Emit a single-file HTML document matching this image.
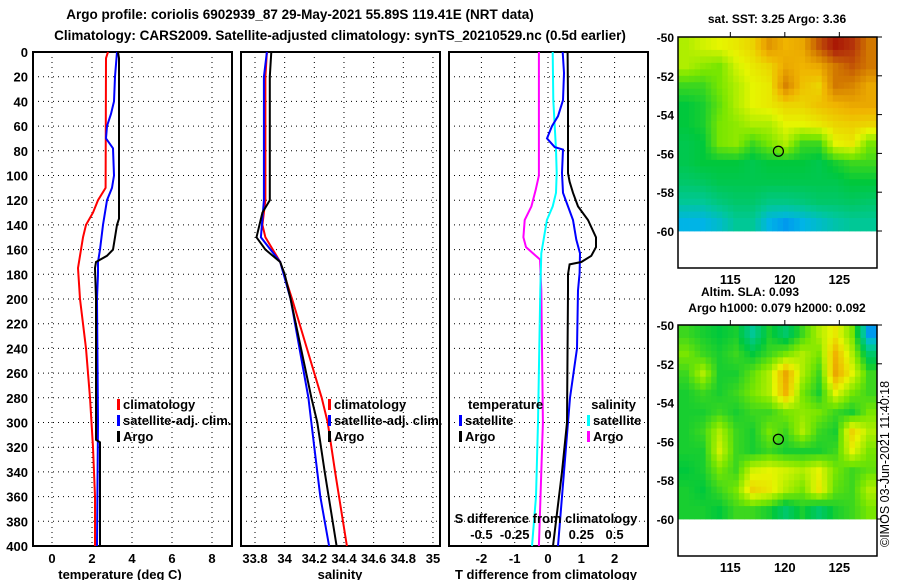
<!DOCTYPE html>
<html><head><meta charset="utf-8"><style>
body{margin:0;background:#fff}
svg{display:block;font-family:"Liberation Sans",sans-serif;font-weight:bold}
text{fill:#000}
</style></head><body>
<svg id="c" width="900" height="580" viewBox="0 0 900 580" xmlns="http://www.w3.org/2000/svg">
<text x="300" y="19" font-size="13.5" text-anchor="middle">Argo profile: coriolis 6902939_87 29-May-2021 55.89S 119.41E (NRT data)</text>
<text x="340" y="40" font-size="13.5" text-anchor="middle">Climatology: CARS2009. Satellite-adjusted climatology: synTS_20210529.nc (0.5d earlier)</text>
<g id="g"></g>
<text x="120" y="579" font-size="13" text-anchor="middle">temperature (deg C)</text>
<text x="340" y="579" font-size="13" text-anchor="middle">salinity</text>
<text x="546" y="579" font-size="13" text-anchor="middle">T difference from climatology</text>
<text x="546" y="523" font-size="13" text-anchor="middle">S difference from climatology</text>
<text x="777" y="23" font-size="12" text-anchor="middle">sat. SST: 3.25 Argo: 3.36</text>
<text x="750" y="296" font-size="12" text-anchor="middle">Altim. SLA: 0.093</text>
<text x="777" y="312" font-size="12" text-anchor="middle">Argo h1000: 0.079 h2000: 0.092</text>
<text transform="translate(889,547) rotate(-90)" font-size="12.5" font-weight="normal">©IMOS 03-Jun-2021 11:40:18</text>
</svg>
<script>
// ---- data ----
const depthTicks=[0,20,40,60,80,100,120,140,160,180,200,220,240,260,280,300,320,340,360,380,400];
const tempTicks=[0,2,4,6,8];
const salTicks=[33.8,34,34.2,34.4,34.6,34.8,35];
const salTickLabels=["33.8","34","34.2","34.4","34.6","34.8","35"];
const tdTicks=[-2,-1,0,1,2];
const sdTicks=[-0.5,-0.25,0,0.25,0.5];
const sdTickLabels=["-0.5","-0.25","0","0.25","0.5"];

const climTDepth=[0,5,110,120,130,140,150,160,175,200,240,280,320,360,400];
const climT=[2.8,2.7,2.68,2.3,2.05,1.7,1.55,1.45,1.3,1.4,1.7,1.9,2.05,2.15,2.15];
const satTDepth=[0,20,40,50,60,70,78,100,110,120,140,160,170,180,200,300,400];
const satT=[3.25,3.15,3.1,2.95,2.75,2.7,3.05,3.1,3.0,2.75,2.55,2.4,2.3,2.3,2.25,2.3,2.25];
const argoTDepth=[0,5,135,140,150,160,165,170,175,200,314,316,400];
const argoT=[3.3,3.35,3.35,3.25,3.15,3.05,2.75,2.2,2.15,2.2,2.2,2.4,2.4];

const climSDepth=[0,20,120,140,150,160,170,200,240,280,300,340,400];
const climS=[33.88,33.87,33.87,33.85,33.87,33.92,33.97,34.05,34.15,34.25,34.29,34.34,34.42];
const satSDepth=[0,20,120,150,170,200,240,280,320,360,400];
const satS=[33.88,33.86,33.86,33.84,33.97,34.04,34.1,34.16,34.2,34.24,34.3];
const argoSDepth=[0,20,120,130,150,160,170,180,200,240,280,300,340,400];
const argoS=[33.91,33.9,33.9,33.85,33.81,33.87,33.97,34.0,34.04,34.11,34.18,34.22,34.27,34.35];

const tdSatDepth=[0,17,39,52,60,70,77,79,98,114,125,136,152,163,179,193,240,280,320,360,400];
const tdSat=[0.44,0.48,0.45,0.3,0.12,-0.03,0.2,0.45,0.42,0.45,0.6,0.75,0.85,0.96,0.95,0.9,0.87,0.66,0.54,0.42,0.3];
const tdArgoDepth=[0,39,98,105,114,125,136,150,158,165,170,172,180,193,300,340,400];
const tdArgo=[0.59,0.6,0.6,0.65,0.75,0.9,1.2,1.44,1.44,1.3,1.0,0.65,0.6,0.6,0.57,0.42,0.15];
const sdSatDepth=[0,39,79,98,114,125,136,152,163,193,300,360,400];
const sdSat=[0.035,0.04,0.06,0.065,0.06,0.035,-0.008,-0.033,-0.05,-0.058,-0.075,-0.09,-0.12];
const sdArgoDepth=[0,100,112,125,136,150,158,163,168,193,300,400];
const sdArgo=[-0.068,-0.068,-0.093,-0.125,-0.175,-0.185,-0.165,-0.113,-0.06,-0.05,-0.038,-0.068];

const sstGrid=[
[.55,.58,.6,.62,.65,.75,.7,.72,.85,.95,.9,.8],
[.55,.52,.5,.58,.62,.65,.72,.7,.72,.8,.85,.8],
[.45,.45,.5,.55,.6,.62,.78,.68,.65,.8,.78,.72],
[.4,.42,.48,.55,.6,.62,.65,.65,.68,.7,.72,.72],
[.4,.42,.5,.52,.55,.55,.6,.6,.62,.65,.66,.65],
[.38,.4,.5,.52,.45,.5,.55,.45,.45,.6,.62,.5],
[.38,.4,.4,.4,.38,.4,.4,.4,.38,.42,.45,.45],
[.35,.36,.38,.38,.38,.38,.38,.38,.38,.38,.4,.4],
[.3,.3,.33,.35,.35,.32,.32,.33,.35,.35,.36,.35],
[.22,.22,.25,.3,.3,.22,.2,.22,.25,.28,.3,.3]];
const slaGrid=[
[.45,.42,.4,.42,.3,.42,.35,.45,.55,.62,.5,.2],
[.5,.45,.42,.45,.4,.45,.5,.55,.5,.7,.55,.35],
[.45,.55,.42,.42,.48,.55,.72,.55,.45,.72,.6,.45],
[.42,.45,.42,.45,.5,.55,.7,.5,.42,.6,.5,.45],
[.42,.42,.45,.42,.45,.45,.5,.52,.5,.45,.42,.5],
[.42,.45,.55,.45,.42,.5,.45,.55,.45,.42,.65,.55],
[.42,.42,.58,.45,.42,.45,.42,.42,.42,.45,.6,.5],
[.4,.42,.5,.45,.58,.6,.58,.55,.6,.5,.45,.48],
[.42,.4,.45,.5,.65,.62,.55,.5,.62,.48,.45,.55],
[.42,.42,.4,.45,.45,.42,.35,.42,.35,.42,.45,.5]];

// ---- drawing ----
const NS="http://www.w3.org/2000/svg",G=document.getElementById('g');
function el(t,a,p){const e=document.createElementNS(NS,t);for(const k in a)e.setAttribute(k,a[k]);(p||G).appendChild(e);return e;}
const yD=d=>52+d*1.235;
const xT=v=>52+v*20;
const xS=v=>255+(v-33.8)*148.3;
const xD=v=>548+v*33.3;
const xSD=v=>xD(v*4);
const panels=[[33,232],[241,440],[449,648]];
const dot={stroke:'#000','stroke-width':1,'stroke-dasharray':'1,4'};
panels.forEach((p,i)=>{
  depthTicks.forEach(d=>{if(d>0&&d<400){const l=el('line',Object.assign({x1:p[0],x2:p[1],y1:yD(d),y2:yD(d)},dot));
  
  }});
});
depthTicks.forEach(d=>{const t=el('text',{x:28,y:yD(d)+5,'font-size':13,'text-anchor':'end'});t.textContent=d;

});
function vgrid(vals,labels,sx,p,ly){vals.forEach((v,i)=>{const l=el('line',Object.assign({x1:sx(v),x2:sx(v),y1:yD(0),y2:yD(400)},dot));


const t=el('text',{x:sx(v),y:ly,'font-size':13,'text-anchor':'middle'});t.textContent=labels[i];

});}
vgrid(tempTicks,tempTicks.map(String),xT,panels[0],563);
vgrid(salTicks,salTickLabels,xS,panels[1],563);
vgrid(tdTicks,tdTicks.map(String),xD,panels[2],563);
sdTicks.forEach((v,i)=>{const t=el('text',{x:xSD(v),y:539,'font-size':13,'text-anchor':'middle'});t.textContent=sdTickLabels[i];

});
panels.forEach((p,i)=>{const r=el('rect',{x:p[0],y:yD(0),width:p[1]-p[0],height:yD(400)-yD(0),fill:'none',stroke:'#000','stroke-width':2});

});
function line(ds,vs,sx,col,name){const pts=ds.map((d,i)=>sx(vs[i]).toFixed(1)+','+yD(d).toFixed(1)).join(' ');
const l=el('polyline',{points:pts,fill:'none',stroke:col,'stroke-width':2});

}
line(climTDepth,climT,xT,'#f00','temp-climatology-line');
line(satTDepth,satT,xT,'#00f','temp-satellite-line');
line(argoTDepth,argoT,xT,'#000','temp-argo-line');
line(climSDepth,climS,xS,'#f00','sal-climatology-line');
line(satSDepth,satS,xS,'#00f','sal-satellite-line');
line(argoSDepth,argoS,xS,'#000','sal-argo-line');
line(sdArgoDepth,sdArgo,xSD,'#f0f','sdiff-argo-line');
line(sdSatDepth,sdSat,xSD,'#0ff','sdiff-satellite-line');
line(tdSatDepth,tdSat,xD,'#00f','tdiff-satellite-line');
line(tdArgoDepth,tdArgo,xD,'#000','tdiff-argo-line');
function leg(x,y,col,txt,name){const r=el('rect',{x:x,y:y-10,width:3,height:11,fill:col});


const t=el('text',{x:x+6,y:y,'font-size':13});t.textContent=txt;

}
leg(117,409,'#f00','climatology','legend-climatology');
leg(117,425,'#00f','satellite-adj. clim.','legend-satellite');
leg(117,441,'#000','Argo','legend-argo');
leg(328,409,'#f00','climatology','legend-sal-climatology');
leg(328,425,'#00f','satellite-adj. clim.','legend-sal-satellite');
leg(328,441,'#000','Argo','legend-sal-argo');
let t1=el('text',{x:468,y:409,'font-size':13});t1.textContent='temperature';


let t2=el('text',{x:636,y:409,'font-size':13,'text-anchor':'end'});t2.textContent='salinity';


leg(459,425,'#00f','satellite','legend-tdiff-satellite');
leg(459,441,'#000','Argo','legend-tdiff-argo');
leg(587,425,'#0ff','satellite','legend-sdiff-satellite');
leg(587,441,'#f0f','Argo','legend-sdiff-argo');

// maps
const stops=[[0.15,[0,90,255]],[0.22,[0,180,230]],[0.3,[0,200,150]],[0.4,[0,200,60]],[0.5,[120,230,0]],[0.6,[230,245,0]],[0.7,[240,180,0]],[0.8,[210,120,0]],[0.9,[180,50,10]],[1,[160,0,0]]];
function cmap(v){for(let i=1;i<stops.length;i++){if(v<=stops[i][0]){const a=stops[i-1],b=stops[i],f=Math.max(0,(v-a[0])/(b[0]-a[0]));const c=a[1].map((x,k)=>Math.round(x+(b[1][k]-x)*f));return 'rgb('+c+')';}}return 'rgb(160,0,0)';}
function sample(grid,u,v){const R=grid.length,C=grid[0].length;const x=Math.min(C-1,Math.max(0,u*C-0.5)),y=Math.min(R-1,Math.max(0,v*R-0.5));
const x0=Math.floor(x),y0=Math.floor(y),x1=Math.min(C-1,x0+1),y1=Math.min(R-1,y0+1),fx=x-x0,fy=y-y0;
return grid[y0][x0]*(1-fx)*(1-fy)+grid[y0][x1]*fx*(1-fy)+grid[y1][x0]*(1-fx)*fy+grid[y1][x1]*fx*fy;}
const lonX=lon=>678+(lon-110.2)*10.9;
function map(grid,top,name,nx,ny){
  const L=678,R=877,dataH=194,frameB=top+231;
  const cw=(R-L)/nx,ch=dataH/ny;
  for(let r=0;r<ny;r++)for(let c=0;c<nx;c++){const v=sample(grid,(c+0.5)/nx,(r+0.5)/ny);
  const e=el('rect',{x:(L+c*cw).toFixed(2),y:(top+r*ch).toFixed(2),width:(cw+0.4).toFixed(2),height:(ch+0.4).toFixed(2),fill:cmap(v)});
  
  }
  const f=el('rect',{x:L,y:top,width:R-L,height:frameB-top,fill:'none',stroke:'#000','stroke-width':1.5});
  
  
  [-50,-52,-54,-56,-58,-60].forEach(lat=>{const y=top+(-50-lat)*19.4;const t=el('text',{x:674,y:y+5,'font-size':12,'text-anchor':'end'});t.textContent=lat;
  
  
  el('line',{x1:R,x2:R+5,y1:y,y2:y,stroke:'#000'});});
  [115,120,125].forEach(lon=>{const x=lonX(lon);el('line',{x1:x,x2:x,y1:top-5,y2:top,stroke:'#000'});
  const t=el('text',{x:x,y:frameB+16,'font-size':13,'text-anchor':'middle'});t.textContent=lon;
  
  });
  const cc=el('circle',{cx:lonX(119.41),cy:top+5.89*19.4,r:5,fill:'none',stroke:'#000','stroke-width':1.2});
  
  
}
map(sstGrid,37,'sst-map',36,30);
map(slaGrid,325,'sla-map',36,30);
</script>
</body></html>
